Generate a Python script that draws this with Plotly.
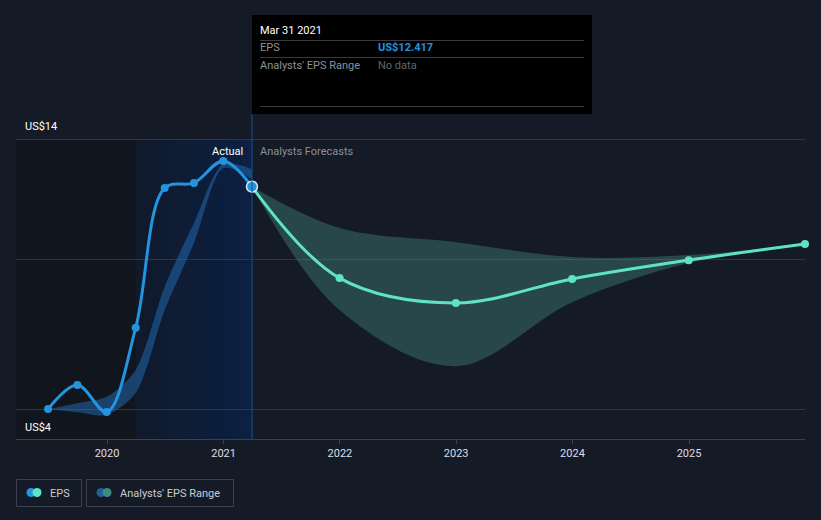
import plotly.graph_objects as go
import datetime as _dt

# ---- data ----
past_dates = ["2019-06-30", "2019-09-30", "2019-12-31", "2020-03-31",
              "2020-06-30", "2020-09-30", "2020-12-31", "2021-03-31"]
past_eps = [4.01, 4.92, 3.90, 7.08, 12.37, 12.56, 13.39, 12.417]
past_range_low = [4.0, 3.89, 3.79, 4.62, 7.75, 10.29, 13.12, 12.70]
past_range_high = [4.0, 4.23, 4.47, 5.49, 8.63, 11.04, 13.27, 13.08]

fc_dates = ["2021-03-31", "2021-12-31", "2022-12-31", "2023-12-31",
            "2024-12-31", "2025-12-31"]
fc_eps = [12.417, 8.96, 8.02, 8.93, 9.64, 10.25]
fc_low = [12.417, 7.75, 5.63, 8.05, 9.53, 10.25]
fc_high = [12.417, 10.85, 10.32, 9.76, 9.83, 10.25]

grid_vals = [4.0, 9.671, 14.208]
y_labels = ["US$4", "US$14"]
x_range = ["2019-03-21 07:00", "2025-12-31"]
y_range = [2.877, 15.127]

BG = "#151b26"
BLUE = "#2394e0"
TEAL = "#5fe3c8"
FONT = "Roboto"
FS = 11

# plot area in pixels
L, R, T, B = 16, 805, 115, 439
W, H = 821, 520


def px(x):
    return (x - L) / (R - L)


def py(y):
    return (B - y) / (B - T)


fig = go.Figure()

# past analysts range
fig.add_trace(go.Scatter(x=past_dates, y=past_range_low, mode="lines",
                         line=dict(width=0, shape="spline", smoothing=0.8, color="rgba(0,0,0,0)"),
                         hoverinfo="skip", showlegend=False))
fig.add_trace(go.Scatter(x=past_dates, y=past_range_high, mode="lines",
                         line=dict(width=0, shape="spline", smoothing=0.8, color="rgba(0,0,0,0)"),
                         fill="tonexty", fillcolor="rgba(35,120,200,0.45)",
                         name="Analysts' EPS Range", hoverinfo="skip", showlegend=False))
# forecast range
fig.add_trace(go.Scatter(x=fc_dates, y=fc_low, mode="lines",
                         line=dict(width=0, shape="spline", color="rgba(0,0,0,0)"),
                         hoverinfo="skip", showlegend=False))
fig.add_trace(go.Scatter(x=fc_dates, y=fc_high, mode="lines",
                         line=dict(width=0, shape="spline", color="rgba(0,0,0,0)"),
                         fill="tonexty", fillcolor="rgba(78,165,155,0.32)",
                         name="Analysts' EPS Range", hoverinfo="skip", showlegend=False))
# forecast EPS
fig.add_trace(go.Scatter(x=fc_dates, y=fc_eps, mode="lines+markers",
                         line=dict(width=3, shape="spline", color=TEAL),
                         marker=dict(size=8, color=TEAL),
                         name="EPS", showlegend=False, cliponaxis=False))
# past EPS
fig.add_trace(go.Scatter(x=past_dates, y=past_eps, mode="lines+markers",
                         line=dict(width=3, shape="spline", color=BLUE),
                         marker=dict(size=8, color=BLUE),
                         name="EPS", showlegend=False))
# highlighted last actual point
fig.add_trace(go.Scatter(x=[past_dates[-1]], y=[past_eps[-1]], mode="markers",
                         marker=dict(size=11, color=BLUE, line=dict(color="#dfe9f5", width=1.5)),
                         showlegend=False, hoverinfo="skip"))

shapes = []
# dark past region
shapes.append(dict(type="rect", xref="x", yref="paper", x0=x_range[0], x1="2020-03-31",
                   y0=0, y1=py(139.3), fillcolor="#11151d", line=dict(width=0), layer="below"))
# blue gradient region (stripes)
start = _dt.datetime(2020, 3, 31)
end = _dt.datetime(2021, 3, 31)
n = 10
for i in range(n):
    a = start + (end - start) * i / n
    b = start + (end - start) * (i + 1) / n
    t = i / (n - 1)
    r = int(17 + (11 - 17) * t)
    g = int(26 + (32 - 26) * t)
    bl = int(44 + (66 - 44) * t)
    shapes.append(dict(type="rect", xref="x", yref="paper", x0=a, x1=b,
                       y0=0, y1=py(139.3), fillcolor=f"rgb({r},{g},{bl})",
                       line=dict(width=0), layer="below"))
# vertical line at last actual
shapes.append(dict(type="line", xref="x", yref="paper", x0="2021-03-31", x1="2021-03-31",
                   y0=0, y1=py(114), line=dict(color="#1d4f92", width=1)))
# tooltip box
shapes.append(dict(type="rect", xref="paper", yref="paper", x0=px(252), x1=px(592),
                   y0=py(114), y1=py(15), fillcolor="#000000", line=dict(width=0)))
for yy in (40.5, 57.5, 106.5):
    shapes.append(dict(type="line", xref="paper", yref="paper", x0=px(260), x1=px(584),
                       y0=py(yy), y1=py(yy), line=dict(color="#3a3a3a", width=1)))
# legend boxes
for x0, x1 in ((16.5, 81.5), (86.5, 233.5)):
    shapes.append(dict(type="rect", xref="paper", yref="paper", x0=px(x0), x1=px(x1),
                       y0=py(506.5), y1=py(479.5), fillcolor="rgba(0,0,0,0)",
                       line=dict(color="#3b414d", width=1)))
# legend dots
for cx, col in ((31, BLUE), (37, TEAL), (101, "#1f5f99"), (107, "#3f8a80")):
    shapes.append(dict(type="circle", xref="paper", yref="paper",
                       x0=px(cx - 4.5), x1=px(cx + 4.5), y0=py(497), y1=py(488),
                       fillcolor=col, line=dict(width=0)))

ann = []
ann.append(dict(text=y_labels[1], x=px(23), y=14.208, xref="paper", yref="y",
                xanchor="left", yanchor="bottom", yshift=4, showarrow=False,
                font=dict(family=FONT, size=FS, color="#ffffff")))
ann.append(dict(text=y_labels[0], x=px(23), y=4.0, xref="paper", yref="y",
                xanchor="left", yanchor="top", yshift=-10, showarrow=False,
                font=dict(family=FONT, size=FS, color="#ffffff")))
ann.append(dict(text="Actual", x=px(245), y=py(151), xref="paper", yref="paper",
                xanchor="right", yanchor="middle", showarrow=False,
                font=dict(family=FONT, size=FS, color="#ffffff")))
ann.append(dict(text="Analysts Forecasts", x=px(258), y=py(151), xref="paper", yref="paper",
                xanchor="left", yanchor="middle", showarrow=False,
                font=dict(family=FONT, size=FS, color="#8a8f98")))
# tooltip text
ann.append(dict(text="Mar 31 2021", x=px(258), y=py(31), xref="paper", yref="paper",
                xanchor="left", yanchor="middle", showarrow=False,
                font=dict(family=FONT, size=FS, color="#ffffff")))
ann.append(dict(text="EPS", x=px(258), y=py(48), xref="paper", yref="paper",
                xanchor="left", yanchor="middle", showarrow=False,
                font=dict(family=FONT, size=FS, color="#8d9199")))
ann.append(dict(text="<b>US$12.417</b>", x=px(376), y=py(48), xref="paper", yref="paper",
                xanchor="left", yanchor="middle", showarrow=False,
                font=dict(family=FONT, size=FS, color=BLUE)))
ann.append(dict(text="Analysts' EPS Range", x=px(258), y=py(65), xref="paper", yref="paper",
                xanchor="left", yanchor="middle", showarrow=False,
                font=dict(family=FONT, size=FS, color="#8d9199")))
ann.append(dict(text="No data", x=px(376), y=py(65), xref="paper", yref="paper",
                xanchor="left", yanchor="middle", showarrow=False,
                font=dict(family=FONT, size=FS, color="#62666d")))
# legend labels
ann.append(dict(text="EPS", x=px(48), y=py(493), xref="paper", yref="paper",
                xanchor="left", yanchor="middle", showarrow=False,
                font=dict(family=FONT, size=FS, color="#c9ccd2")))
ann.append(dict(text="Analysts' EPS Range", x=px(118), y=py(493), xref="paper", yref="paper",
                xanchor="left", yanchor="middle", showarrow=False,
                font=dict(family=FONT, size=FS, color="#c9ccd2")))

fig.update_layout(
    width=W, height=H,
    margin=dict(l=L, r=W - R, t=T, b=H - B),
    paper_bgcolor=BG, plot_bgcolor=BG,
    font=dict(family=FONT, color="#dddddd"),
    shapes=shapes, annotations=ann,
    showlegend=False,
    hovermode=False,
)
fig.update_xaxes(type="date", range=x_range, dtick="M12", tick0="2020-01-01",
                 tickformat="%Y", showgrid=False, showline=True, linecolor="#3b414d",
                 ticks="outside", ticklen=4, tickcolor="#3b414d",
                 tickfont=dict(family=FONT, size=FS, color="#dcdfe4"), zeroline=False)
fig.update_yaxes(range=y_range, tickvals=grid_vals, showticklabels=False,
                 gridcolor="#30363f", gridwidth=1, zeroline=False, showline=False)

fig.write_html("out.html")
